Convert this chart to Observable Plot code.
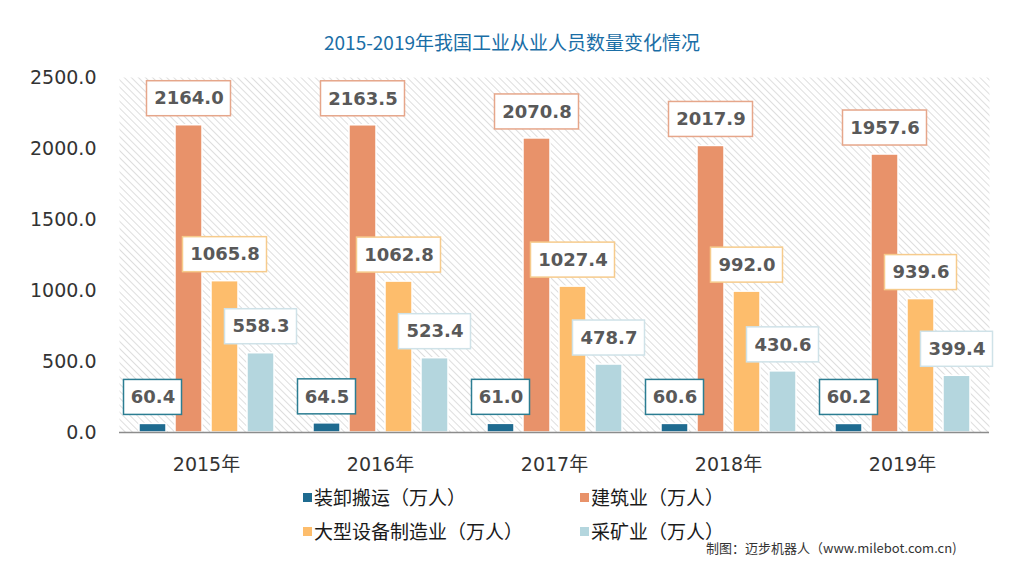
<!DOCTYPE html>
<html>
<head>
<meta charset="utf-8">
<script src="https://cdn.jsdelivr.net/npm/d3@7"></script>
<script src="https://cdn.jsdelivr.net/npm/@observablehq/plot@0.6"></script>
<style>
  html, body { margin: 0; padding: 0; background: #fff; }
  body { position: relative; width: 1024px; height: 576px; overflow: hidden;
         font-family: "Noto Sans CJK SC", "DejaVu Sans", sans-serif; }
  #title { position: absolute; left: 0; top: 29px; width: 1024px; text-align: center;
           font-size: 19px; line-height: 26px; color: #1a6ea6; }
  #chart { position: absolute; left: 0; top: 60px; }
  .lg { position: absolute; font-size: 19px; line-height: 24px; color: #1a1a1a; white-space: nowrap; }
  .lg i { position: absolute; left: -11px; top: 8px; width: 9px; height: 9px; }
  #caption { position: absolute; left: 706px; top: 539px; font-size: 13px; line-height: 18px; color: #333; white-space: nowrap; }
</style>
</head>
<body>
<div id="title">2015-2019年我国工业从业人员数量变化情况</div>
<div id="chart"></div>
<div id="legend"></div>
<div id="caption">制图：迈步机器人（www.milebot.com.cn)</div>
<script>
// ---- data ----
const years = ["2015年", "2016年", "2017年", "2018年", "2019年"];
const series = ["装卸搬运（万人）", "建筑业（万人）", "大型设备制造业（万人）", "采矿业（万人）"];
const loading = [60.4, 64.5, 61.0, 60.6, 60.2];
const construction = [2164.0, 2163.5, 2070.8, 2017.9, 1957.6];
const equipment = [1065.8, 1062.8, 1027.4, 992.0, 939.6];
const mining = [558.3, 523.4, 478.7, 430.6, 399.4];
const yTicks = [0, 500, 1000, 1500, 2000, 2500];

// ---- styles ----
const colors = ["#1f6b90", "#e8926a", "#fdbd6c", "#b4d6de"];
const boxBorders = ["#2b7d92", "#e6a68a", "#f6cb8c", "#cfe2e8"];

const valuesBySeries = [loading, construction, equipment, mining];
const rows = years.flatMap((yr, i) => series.map((s, j) => ({
  year: yr, series: s, value: valuesBySeries[j][i], border: boxBorders[j]
})));

const fmt = v => v.toFixed(1);
const bw = 27;
function boxMark(len, w) {
  return Plot.barY(rows.filter(d => fmt(d.value).length === len), {
    fx: "year", x: "series", y1: "value", y2: "value",
    fill: "white",
    stroke: {value: d => d.border, scale: null},
    strokeWidth: 1.5,
    insetTop: -44, insetBottom: 9,
    insetLeft: (bw - w) / 2, insetRight: (bw - w) / 2,
    ariaLabel: "labelbox"
  });
}

const svg = Plot.plot({
  width: 1024, height: 420,
  marginTop: 17, marginBottom: 48, marginLeft: 118, marginRight: 34,
  style: { fontFamily: "'DejaVu Sans', 'Noto Sans CJK SC', sans-serif", fontSize: "19px", color: "#333", background: "transparent" },
  fx: { domain: years, padding: 0, label: null, axis: "bottom", tickSize: 0, tickPadding: 25 },
  x: { domain: series, paddingInner: 0.26, paddingOuter: 0.52, axis: null },
  y: { domain: [0, 2500], ticks: yTicks, tickFormat: fmt, label: null, tickSize: 0, tickPadding: 23 },
  color: { domain: series, range: colors },
  marks: [
    Plot.frame({ fill: "url(#hatch)", stroke: "none", facet: "super" }),
    Plot.barY(rows, { fx: "year", x: "series", y: "value", fill: "series", stroke: "white", strokeWidth: 1.5, ariaLabel: "databar" }),
    Plot.ruleY([0], { stroke: "#8c8c8c", strokeWidth: 1.5 }),
    boxMark(4, 58),
    boxMark(5, 72),
    boxMark(6, 84),
    Plot.text(rows, { fx: "year", x: "series", y: "value", text: d => fmt(d.value), dy: -26.5,
      fontWeight: "bold", fontSize: 18, fill: "#595959" })
  ]
});

// hatch pattern and soft shadow
const defs = d3.select(svg).insert("defs", ":first-child");
const pat = defs.append("pattern").attr("id", "hatch").attr("patternUnits", "userSpaceOnUse")
  .attr("width", 5).attr("height", 5).attr("patternTransform", "rotate(-45)");
pat.append("rect").attr("width", 5).attr("height", 5).attr("fill", "#ffffff");
pat.append("line").attr("x1", 0).attr("y1", 0).attr("x2", 0).attr("y2", 5)
  .attr("stroke", "#d9d9d9").attr("stroke-width", 1.7);
const flt = defs.append("filter").attr("id", "shadow").attr("x", "-20%").attr("y", "-20%").attr("width", "140%").attr("height", "140%");
flt.append("feDropShadow").attr("dx", 1.5).attr("dy", 1.5).attr("stdDeviation", 1.2)
  .attr("flood-color", "#000").attr("flood-opacity", 0.18);
d3.select(svg).selectAll('g[aria-label="labelbox"], g[aria-label="databar"]').attr("filter", "url(#shadow)");

document.getElementById("chart").appendChild(svg);

// legend
const legendPos = [[314, 485], [591, 485], [314, 519], [591, 519]];
const legend = document.getElementById("legend");
series.forEach((s, j) => {
  const el = document.createElement("div");
  el.className = "lg";
  el.style.left = legendPos[j][0] + "px";
  el.style.top = legendPos[j][1] + "px";
  el.innerHTML = `<i style="background:${colors[j]}"></i>${s}`;
  legend.appendChild(el);
});
</script>
</body>
</html>
